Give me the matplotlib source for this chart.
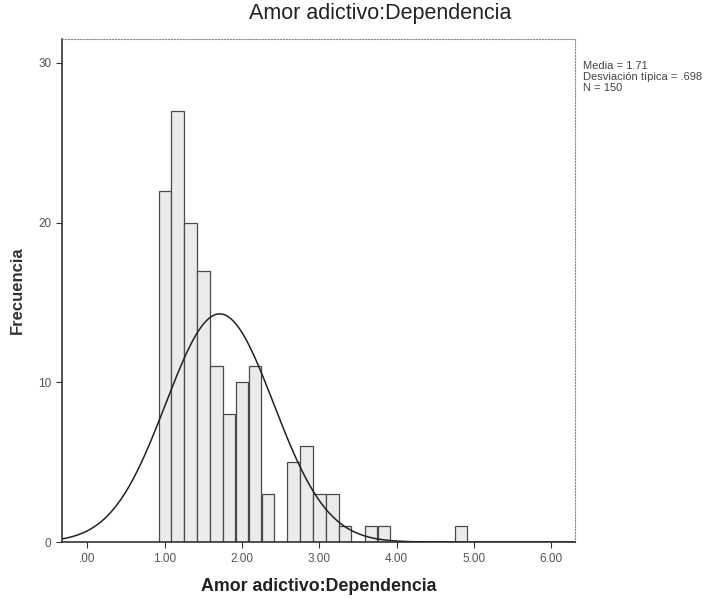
import numpy as np
import matplotlib.pyplot as plt

plt.rcParams['font.family'] = ['Liberation Sans', 'DejaVu Sans']

# histogram bins (width 1/6, first bin centred on 1.00)
bin_start = 1.0
bin_width = 1 / 6
counts = [22, 27, 20, 17, 11, 8, 10, 11, 3, 0, 5, 6, 3, 3, 1, 0, 1, 1,
          0, 0, 0, 0, 0, 1]

mean = 1.71
sd = 0.698
n = 150

xticks = [0, 1, 2, 3, 4, 5, 6]
xticklabels = ['.00', '1.00', '2.00', '3.00', '4.00', '5.00', '6.00']
yticks = [0, 10, 20, 30]

fig = plt.figure(figsize=(7.25, 5.99), dpi=100)
ax = fig.add_axes([0.0855, 0.095, 0.708, 0.84])

centers = bin_start + bin_width * np.arange(len(counts))
ax.bar(centers, counts, width=bin_width * 0.97, facecolor='#ebebeb',
       edgecolor='#4a4a4a', linewidth=0.9, zorder=2)

xs = np.linspace(-0.35, 6.35, 400)
ys = n * bin_width * np.exp(-0.5 * ((xs - mean) / sd) ** 2) / (sd * np.sqrt(2 * np.pi))
ax.plot(xs, ys, color='#222222', linewidth=1.1, zorder=3)

ax.set_xlim(-0.33, 6.31)
ax.set_ylim(0, 31.5)
ax.set_xticks(xticks)
ax.set_xticklabels(xticklabels)
ax.set_yticks(yticks)
ax.tick_params(axis='both', labelsize=8.5, labelcolor='#555555',
               color='#333333', length=4, width=0.8)

for side in ['top', 'right']:
    ax.spines[side].set_linestyle(':')
    ax.spines[side].set_color('#888888')
    ax.spines[side].set_linewidth(0.8)
for side in ['left', 'bottom']:
    ax.spines[side].set_color('#333333')
    ax.spines[side].set_linewidth(1.2)

fig.text(0.524, 0.978, 'Amor adictivo:Dependencia', fontsize=15.5,
         color='#222222', ha='center', va='center')
ax.set_xlabel('Amor adictivo:Dependencia', fontsize=12.8, fontweight='bold',
              color='#222222', labelpad=10)
ax.set_ylabel('Frecuencia', fontsize=12, fontweight='bold',
              color='#333333', labelpad=10)

fig.text(0.804, 0.898, 'Media = 1.71\nDesviación típica = .698\nN = 150',
         fontsize=8, color='#444444', va='top', ha='left', linespacing=1.1)

fig.savefig('out.png', dpi=100, facecolor='white')
